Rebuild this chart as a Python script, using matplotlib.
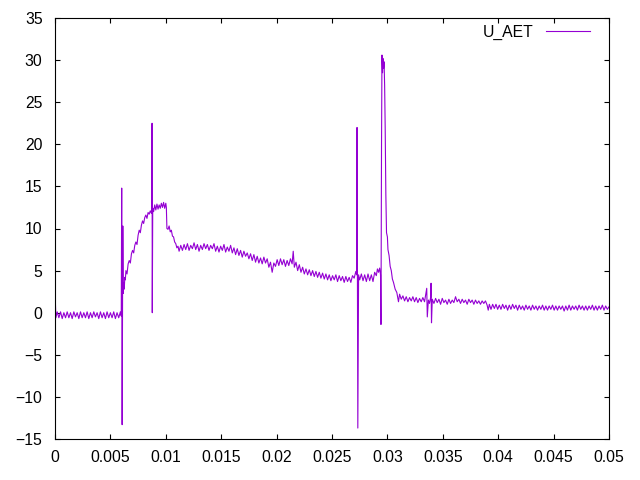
import matplotlib
matplotlib.use("Agg")
import matplotlib.pyplot as plt

plt.rcParams["font.family"] = ["Liberation Sans", "DejaVu Sans"]

# time in ms, voltage in V
t_start = [0.00, 0.02, 0.04, 0.08, 0.2, 0.35, 0.5, 0.65, 0.8, 0.95, 1.1, 1.25,
           1.4, 1.55, 1.7, 1.85, 2.0, 2.15, 2.3, 2.45, 2.6, 2.75, 2.9, 3.05,
           3.2, 3.35, 3.5, 3.65, 3.8, 3.95, 4.1, 4.25, 4.4, 4.55, 4.7, 4.85,
           5.0, 5.15, 5.3, 5.45, 5.6, 5.75, 5.9, 5.98, 6.02, 6.06, 6.12, 6.16]
u_start = [14.5, -1.5, 1.0, -0.6, 0.1, -0.6, 0.1, -0.7, 0.0, -0.6, 0.1, -0.6,
           0.0, -0.7, 0.1, -0.5, 0.0, -0.7, 0.1, -0.6, 0.0, -0.6, 0.1, -0.7,
           0.0, -0.6, 0.1, -0.5, 0.0, -0.7, 0.1, -0.6, 0.0, -0.7, 0.1, -0.6,
           0.0, -0.6, 0.1, -0.7, 0.0, -0.6, 0.1, -0.4, 14.8, -13.3, 10.3, 2.3]

t_rise = [6.2, 6.25, 6.3, 6.35, 6.4, 6.5, 6.6, 6.7, 6.8, 6.9, 7.0, 7.1, 7.2,
          7.3, 7.4, 7.5, 7.6, 7.7, 7.8, 7.9, 8.0, 8.1, 8.2, 8.3, 8.4, 8.5,
          8.6, 8.7, 8.74, 8.76, 8.78, 8.82, 8.9, 9.0, 9.1, 9.2, 9.3, 9.4,
          9.5, 9.6, 9.7, 9.8, 9.9, 10.0, 10.05, 10.1]
u_rise = [3.5, 2.8, 4.2, 3.9, 5.0, 4.6, 5.8, 6.2, 5.9, 7.0, 7.4, 7.1, 8.0,
          8.4, 8.1, 9.2, 9.8, 9.5, 10.4, 10.9, 10.6, 11.3, 11.6, 11.2, 11.9, 11.7,
          12.1, 11.8, 12.3, 22.5, 0.0, 12.4, 12.0, 12.8, 12.2, 12.9, 12.3, 12.8,
          12.4, 13.0, 12.5, 13.1, 12.4, 13.0, 12.5, 10.0]

t_decay = [10.2, 10.3, 10.4, 10.5, 10.6, 10.7, 10.8, 10.9, 11.0, 11.1, 11.2,
           11.35, 11.5, 11.65, 11.8, 11.95, 12.1, 12.25, 12.4, 12.55, 12.7,
           12.85, 13.0, 13.15, 13.3, 13.45, 13.6, 13.75, 13.9, 14.05, 14.2,
           14.35, 14.5, 14.65, 14.8, 14.95, 15.1, 15.25, 15.4, 15.55, 15.7,
           15.85, 16.0, 16.15, 16.3, 16.45, 16.6, 16.75, 16.9, 17.05, 17.2,
           17.35, 17.5, 17.65, 17.8, 17.95, 18.1, 18.25, 18.4, 18.55, 18.7,
           18.85, 19.0, 19.15, 19.3, 19.45, 19.6, 19.75, 19.9, 20.05, 20.2,
           20.35, 20.5, 20.65, 20.8, 20.95, 21.1, 21.25, 21.4, 21.5, 21.6,
           21.75, 21.9, 22.05, 22.2, 22.35, 22.5, 22.65, 22.8, 22.95, 23.1,
           23.25, 23.4, 23.55, 23.7, 23.85, 24.0, 24.15, 24.3, 24.45, 24.6,
           24.75, 24.9, 25.05, 25.2, 25.35, 25.5, 25.65, 25.8, 25.95, 26.1,
           26.25, 26.4, 26.55, 26.7, 26.85, 27.0, 27.15, 27.22]
u_decay = [9.9, 10.3, 9.6, 9.8, 9.1, 9.0, 8.4, 8.2, 7.7, 7.9, 7.3,
           8.0, 7.4, 8.1, 7.5, 8.2, 7.4, 8.0, 7.6, 8.3, 7.5,
           8.1, 7.3, 8.0, 7.5, 8.2, 7.6, 8.1, 7.4, 8.0, 7.6,
           8.2, 7.3, 7.9, 7.2, 7.9, 7.4, 8.1, 7.2, 7.8, 7.3,
           8.0, 7.1, 7.7, 6.9, 7.6, 6.8, 7.4, 6.6, 7.3, 6.7,
           7.1, 6.4, 7.0, 6.2, 6.9, 6.0, 6.7, 5.9, 6.5, 5.8,
           6.6, 5.9, 6.4, 5.4, 6.0, 4.8, 5.9, 5.5, 6.3, 5.6,
           6.4, 5.7, 6.3, 5.5, 6.2, 5.6, 6.4, 5.8, 7.3, 5.4,
           6.0, 5.0, 5.7, 4.8, 5.4, 4.6, 5.2, 4.5, 5.1, 4.4,
           5.0, 4.3, 4.9, 4.2, 4.8, 4.1, 4.7, 4.0, 4.6, 3.9,
           4.5, 3.8, 4.4, 3.9, 4.5, 3.7, 4.4, 3.8, 4.3, 3.6,
           4.3, 3.7, 4.2, 3.6, 4.4, 4.1, 4.9, 4.5]

t_tail = [27.26, 27.33, 27.4, 27.5, 27.65, 27.8, 27.95, 28.1, 28.25, 28.4,
          28.55, 28.7, 28.85, 29.0, 29.1, 29.2, 29.3, 29.38, 29.42, 29.47,
          29.51, 29.56, 29.6, 29.65, 29.7, 29.75, 29.8, 29.86, 29.92, 30.0,
          30.05, 30.15, 30.25, 30.35, 30.45, 30.55, 30.7, 30.85, 31.0, 31.1,
          31.25, 31.4, 31.55, 31.7, 31.85, 32.0, 32.15, 32.3, 32.45, 32.6,
          32.75, 32.9, 33.05, 33.2, 33.35, 33.55, 33.6, 33.7, 33.8, 33.9,
          33.94, 33.98, 34.05, 34.2, 34.35, 34.5, 34.65, 34.8, 34.95, 35.1,
          35.25, 35.4, 35.55, 35.7, 35.85, 36.0, 36.15, 36.3, 36.45, 36.6,
          36.75, 36.9, 37.05, 37.2, 37.35, 37.5, 37.65, 37.8, 37.95, 38.1,
          38.25, 38.4, 38.55, 38.7, 38.85, 39.0, 39.1, 39.2, 39.35, 39.5,
          39.65, 39.8, 39.95, 40.1, 40.25, 40.4, 40.55, 40.7, 40.85, 41.0,
          41.15, 41.3, 41.45, 41.6, 41.75, 41.9, 42.05, 42.2, 42.35, 42.5,
          42.65, 42.8, 42.95, 43.1, 43.25, 43.4, 43.55, 43.7, 43.85, 44.0,
          44.15, 44.3, 44.45, 44.6, 44.75, 44.9, 45.05, 45.2, 45.35, 45.5,
          45.65, 45.8, 45.95, 46.1, 46.25, 46.4, 46.55, 46.7, 46.85, 47.0,
          47.15, 47.3, 47.45, 47.6, 47.75, 47.9, 48.05, 48.2, 48.35, 48.5,
          48.65, 48.8, 48.95, 49.1, 49.25, 49.4, 49.55, 49.7, 49.85, 50.0]
u_tail = [22.0, -13.7, 4.5, 3.9, 4.6, 3.8, 4.5, 3.7, 4.6, 3.8,
          4.5, 3.7, 4.8, 4.4, 5.2, 4.8, 5.3, 4.5, -1.4, 20.0,
          30.6, 28.5, 30.2, 29.0, 29.8, 27.0, 22.0, 14.0, 9.5, 9.0,
          7.5, 6.8, 5.5, 5.0, 4.0, 3.6, 2.8, 2.4, 1.3, 2.2,
          1.6, 2.0, 1.4, 1.9, 1.3, 1.8, 1.4, 1.9, 1.3, 1.8,
          1.2, 1.7, 1.3, 1.8, 1.3, 2.9, -0.5, 1.5, 1.1, 1.8,
          3.5, -1.2, 1.6, 1.1, 1.7, 1.2, 1.6, 1.0, 1.7, 1.2,
          1.5, 1.0, 1.6, 1.1, 1.5, 1.2, 1.9, 1.3, 1.6, 1.1,
          1.6, 1.2, 1.5, 1.0, 1.6, 1.2, 1.5, 1.0, 1.5, 1.1,
          1.4, 1.0, 1.4, 1.1, 1.4, 0.9, 0.3, 1.0, 0.4, 1.0,
          0.5, 1.0, 0.4, 0.9, 0.4, 1.0, 0.5, 0.9, 0.3, 0.9,
          0.4, 1.0, 0.5, 0.9, 0.3, 0.9, 0.4, 0.8, 0.3, 0.9,
          0.4, 0.8, 0.3, 0.9, 0.4, 0.8, 0.3, 0.8, 0.4, 0.9,
          0.3, 0.8, 0.3, 0.8, 0.4, 0.9, 0.3, 0.8, 0.3, 0.8,
          0.4, 0.8, 0.2, 0.8, 0.3, 0.9, 0.3, 0.8, 0.4, 0.8,
          0.3, 0.9, 0.4, 0.8, 0.3, 0.8, 0.3, 0.8, 0.4, 0.9,
          0.3, 0.8, 0.3, 0.8, 0.4, 0.9, 0.3, 0.8, 0.4, 0.7]

t_ms = t_start + t_rise + t_decay + t_tail
u_aet = u_start + u_rise + u_decay + u_tail
t_sec = [v / 1000.0 for v in t_ms]

x_ticks = [0, 0.005, 0.01, 0.015, 0.02, 0.025, 0.03, 0.035, 0.04, 0.045, 0.05]
x_labels = ["0", "0.005", "0.01", "0.015", "0.02", "0.025", "0.03",
            "0.035", "0.04", "0.045", "0.05"]
y_ticks = [-15, -10, -5, 0, 5, 10, 15, 20, 25, 30, 35]

fig = plt.figure(figsize=(6.4, 4.8), dpi=100)
ax = fig.add_axes([55 / 640, 41 / 480, 554 / 640, 421 / 480])

ax.plot(t_sec, u_aet, color="#9400d3", linewidth=0.8, label="U_AET")

ax.set_xlim(0, 0.05)
ax.set_ylim(-15, 35)
ax.set_xticks(x_ticks)
ax.set_xticklabels(x_labels)
ax.set_yticks(y_ticks)
ax.tick_params(direction="in", length=3.6, width=0.8, labelsize=11.3,
               top=True, right=True)
ax.tick_params(axis="x", pad=8)
ax.tick_params(axis="y", pad=9)
for s in ax.spines.values():
    s.set_linewidth(0.8)

ax.legend(loc="center right", frameon=False, markerfirst=False,
          handlelength=2.8, handletextpad=0.8, fontsize=11.3,
          borderpad=0, borderaxespad=0,
          bbox_to_anchor=(590 / 640, 1 - 32 / 480),
          bbox_transform=fig.transFigure)

fig.savefig("out.png", dpi=100)
